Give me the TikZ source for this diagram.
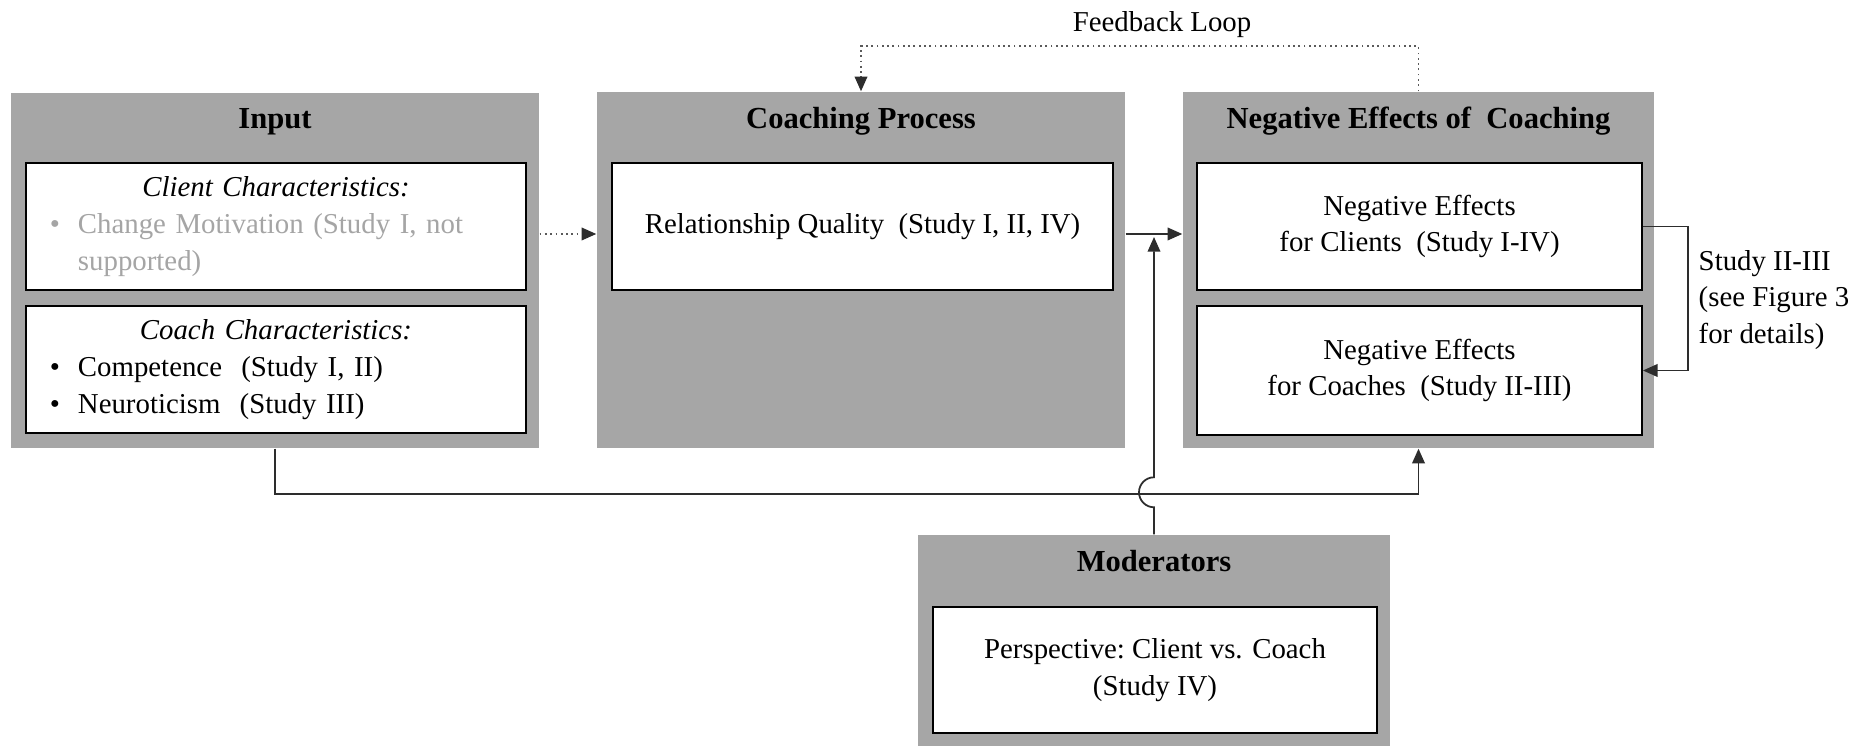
\documentclass[tikz,border=0pt]{standalone}
\usepackage{fontspec}
\setmainfont{Liberation Serif}
\definecolor{BoxGray}{RGB}{166,166,166}
\definecolor{FadeGray}{RGB}{165,165,165}
\definecolor{LineGray}{RGB}{45,45,45}
\definecolor{DotGray}{RGB}{90,90,90}
\usetikzlibrary{arrows.meta, positioning, calc}
\newcommand{\blt}{\hspace*{0.24cm}\makebox[0.28cm][l]{\textbullet}}

\begin{document}
\begin{tikzpicture}[font=\fontsize{8.2}{10.5}\selectfont, bg/.style={fill=BoxGray, draw=none, inner sep=0pt}, bx/.style={draw=black, line width=0.5pt, fill=white, inner sep=0pt, minimum height=1.27cm, align=center}, hd/.style={font=\fontsize{8.7}{10.5}\selectfont\bfseries, inner sep=0pt, anchor=base}, ar/.style={-{Triangle[length=4.2pt, width=3.6pt]}, LineGray, line width=0.5pt}, dar/.style={-{Triangle[length=4.2pt, width=3.6pt, color=LineGray]}, DotGray, line width=0.5pt, densely dotted}]
\useasboundingbox[fill=white] (0,0) rectangle (18.65,-7.46);
\node[bg, minimum width=5.28cm, minimum height=3.55cm] (input) at (2.75,-2.705) {};
\node[bg, minimum width=5.28cm, minimum height=3.56cm] (proc) at (8.61,-2.70) {};
\node[bg, minimum width=4.71cm, minimum height=3.56cm] (neg) at (14.185,-2.70) {};
\node[bg, minimum width=4.72cm, minimum height=2.11cm] (mod) at (11.54,-6.405) {};
\node[hd] (inputT) at (2.75,-1.29) {Input};
\node[hd] (procT) at (8.61,-1.29) {Coaching Process};
\node[hd] (negT) at (14.185,-1.29) {Negative Effects of\ \ Coaching};
\node[hd] (modT) at (11.54,-5.72) {Moderators};
\node[bx, text width=5.00cm, align=left] (client) at (2.76,-2.265) {{\centering\itshape Client Characteristics:\par}{\color{FadeGray}\blt Change Motivation (Study I, not\\\hspace*{0.52cm}supported)}};
\node[bx, text width=5.00cm, align=left] (coach) at (2.76,-3.695) {{\centering\itshape Coach Characteristics:\par}\blt Competence\ \ (Study I, II)\\\blt Neuroticism\ \ (Study III)};
\node[bx, minimum width=5.01cm] (relq) at (8.625,-2.265) {Relationship Quality\ \ (Study I, II, IV)};
\node[bx, minimum width=4.45cm] (cli) at (14.195,-2.265) {Negative Effects\\for Clients\ \ (Study I-IV)};
\node[bx, minimum width=4.45cm, minimum height=1.29cm] (coa) at (14.195,-3.705) {Negative Effects\\for Coaches\ \ (Study II-III)};
\node[bx, minimum width=4.44cm, minimum height=1.26cm] (persp) at (11.55,-6.70) {Perspective:\ Client vs. Coach\\(Study IV)};
\node[inner sep=0pt] (fbl) at (11.62,-0.25) {Feedback Loop};
\node[anchor=west, align=left, inner sep=0pt] (stdy) at (16.98,-3.00) {Study II-III\\(see Figure 3\\for details)};
\coordinate (flow) at (0,-2.34);
% connectors
\draw[dar] (input.east |- flow) -- (proc.west |- flow);
\draw[ar] (proc.east |- flow) -- (neg.west |- flow);
\draw[ar] (input.south) -- ++(0,-0.45) -| (neg.south);
\draw[ar] (mod.north) -- ++(0,0.27) arc[start angle=-90, end angle=-270, radius=0.15] -- ($(mod.north |- flow)+(0,-0.03)$);
\draw[ar] (cli.east) -- ++(0.45,0) |- (coa.east);
\draw[dar] (neg.north) -- ++(0,0.45) -| (proc.north);
\end{tikzpicture}
\end{document}
